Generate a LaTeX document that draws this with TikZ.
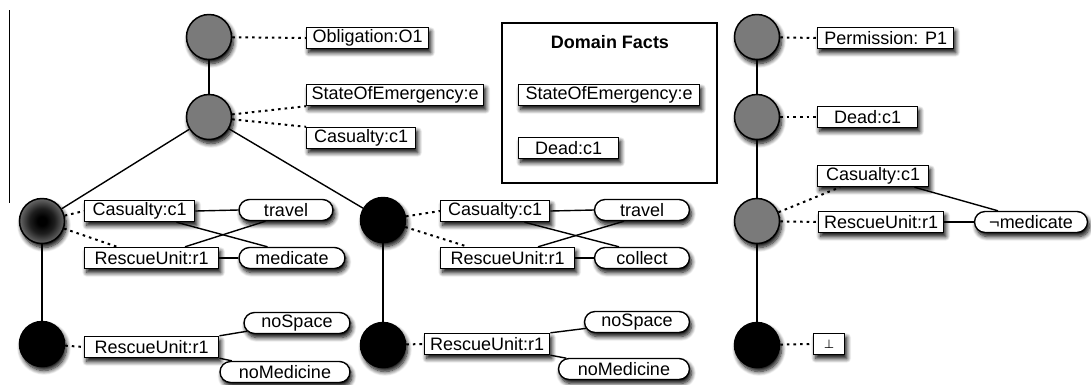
\documentclass[tikz,border=0pt]{standalone}
\usepackage{fontspec}
\setmainfont{Liberation Sans}
\newfontfamily\djv{DejaVu Sans}
\usetikzlibrary{shapes.misc,shadows.blur}
\definecolor{ngray}{RGB}{122,122,122}
\pgfdeclareradialshading{glow}{\pgfpoint{0bp}{0bp}}{color(0bp)=(black); color(5bp)=(black); color(14bp)=(black!75!ngray); color(25bp)=(ngray!85!black); color(50bp)=(ngray!85!black)}
\begin{document}
\begin{tikzpicture}[x=1pt,y=-1pt,
  every node/.style={font=\fontsize{18pt}{21pt}\selectfont},
  sh/.style={blur shadow={shadow xshift=2pt,shadow yshift=-4pt,shadow blur radius=4.5pt,shadow blur steps=8,shadow opacity=100}},
  fact/.style={draw,fill=white,line width=1.4pt,minimum height=21pt,inner xsep=2pt,inner ysep=0pt,anchor=west,sh},
  pill/.style={rounded rectangle,draw,fill=white,line width=1.4pt,minimum height=21pt,inner xsep=2pt,inner ysep=0pt,sh},
  gnode/.style={circle,draw,line width=1.5pt,fill=ngray,minimum size=45pt,inner sep=0pt,sh},
  bnode/.style={gnode,fill=black},
  glownode/.style={gnode,shading=glow},
  tree/.style={line width=1.4pt},
  dots/.style={line width=2pt,dash pattern=on 2.6pt off 4pt}]
\useasboundingbox (0,0) rectangle (1091,384);
\draw[line width=0.9pt] (9,10) -- (9,203);

% left tree
\node[gnode] (c1) at (209,37) {};
\node[gnode] (c2) at (209,117) {};
\node[glownode] (cL) at (42,221) {};
\node[bnode] (cLb) at (42,344) {};
\node[bnode] (cR) at (383,220) {};
\node[bnode] (cRb) at (383,345) {};

\node[fact,minimum width=122pt] (ob) at (306,38) {Obligation:O1};
\node[fact,minimum width=177pt] (soe) at (306,95) {StateOfEmergency:e};
\node[fact,minimum width=109pt] (cas) at (306,138) {Casualty:c1};

\node[fact,minimum width=110pt] (casL) at (84,211) {Casualty:c1};
\node[fact,minimum width=134pt] (ruL) at (84,258) {RescueUnit:r1};
\node[pill,minimum width=98pt] (travL) at (286,210) {travel};
\node[pill,minimum width=110pt] (medL) at (292,258) {medicate};
\node[fact,minimum width=134pt] (ruLb) at (84,347) {RescueUnit:r1};
\node[pill,minimum width=110pt] (nospL) at (297,323) {noSpace};
\node[pill,minimum width=134pt] (nomedL) at (285,372) {noMedicine};

\node[fact,minimum width=109pt] (casR) at (440,211) {Casualty:c1};
\node[fact,minimum width=134pt] (ruR) at (440,258) {RescueUnit:r1};
\node[pill,minimum width=99pt] (travR) at (642,210) {travel};
\node[pill,minimum width=99pt] (colR) at (642,258) {collect};
\node[fact,minimum width=125pt] (ruRb) at (424,344) {RescueUnit:r1};
\node[pill,minimum width=109pt] (nospR) at (637,322) {noSpace};
\node[pill,minimum width=135pt] (nomedR) at (624,369) {noMedicine};

% domain facts
\draw[line width=1.2pt] (502,23) rectangle (717,183);
\node[font=\fontsize{18pt}{21pt}\selectfont\bfseries] (dft) at (610,42) {Domain Facts};
\node[fact,minimum width=181pt] (dsoe) at (518,95) {StateOfEmergency:e};
\node[fact,minimum width=100pt] (ddead) at (518,148) {Dead:c1};

% right tree
\node[gnode] (p1) at (757,37) {};
\node[gnode] (p2) at (757,117) {};
\node[gnode] (p3) at (757,221) {};
\node[bnode] (p4) at (757,345) {};
\node[fact,minimum width=136pt] (perm) at (817,38) {Permission: P1};
\node[fact,minimum width=100pt] (dead) at (817,117) {Dead:c1};
\node[fact,minimum width=111pt] (casP) at (817,176) {Casualty:c1};
\node[fact,minimum width=125pt] (ruP) at (818,222) {RescueUnit:r1};
\node[pill,minimum width=117pt] (negm) at (1031,222) {¬medicate};
\node[fact,minimum width=31pt,font=\djv\fontsize{12pt}{14pt}\selectfont] (bot) at (813,344) {⊥};

% solid tree edges
\draw[tree] (c1) -- (c2);
\draw[tree] (c2) -- (cL);
\draw[tree] (c2) -- (cR);
\draw[tree] (cL) -- (cLb);
\draw[tree] (cR) -- (cRb);
\draw[tree] (p1) -- (p2);
\draw[tree] (p2) -- (p3);
\draw[tree] (p3) -- (p4);

% dotted label links
\draw[dots] (c1) -- (ob.west);
\draw[dots] (c2) -- (soe.south west);
\draw[dots] (c2) -- (cas.north west);
\draw[dots] (cL) -- (casL.west);
\draw[dots] (cL) -- ([xshift=33pt]ruL.north west);
\draw[dots] (cLb) -- (ruLb.west);
\draw[dots] (cR) -- (casR.west);
\draw[dots] (cR) -- ([xshift=28pt]ruR.north west);
\draw[dots] (cRb) -- (ruRb.west);
\draw[dots] (p1) -- (perm.west);
\draw[dots] (p2) -- (dead.west);
\draw[dots] (p3) -- ([xshift=23pt]casP.south west);
\draw[dots] (p3) -- (ruP.west);
\draw[dots] (p4) -- (bot.west);

% relation links
\draw[tree] (casL.east) -- (travL.west);
\draw[tree] (ruL.east) -- (medL.west);
\draw[tree] ([xshift=-19pt]casL.south east) -- ([xshift=18pt]medL.north west);
\draw[tree] ([xshift=101pt]ruL.north west) -- ([xshift=16pt]travL.south west);
\draw[tree] (ruLb.north east) -- (nospL);
\draw[tree] (ruLb.south east) -- (nomedL);

\draw[tree] (casR.east) -- (travR.west);
\draw[tree] (ruR.east) -- (colR.west);
\draw[tree] ([xshift=-26pt]casR.south east) -- ([xshift=14pt]colR.north west);
\draw[tree] ([xshift=98pt]ruR.north west) -- ([xshift=19pt]travR.south west);
\draw[tree] (ruRb.north east) -- (nospR);
\draw[tree] (ruRb.south east) -- (nomedR);

\draw[tree] ([xshift=-15pt]casP.south east) -- ([xshift=-33pt]negm.north);
\draw[tree] (ruP.east) -- (negm.west);
\end{tikzpicture}
\end{document}
